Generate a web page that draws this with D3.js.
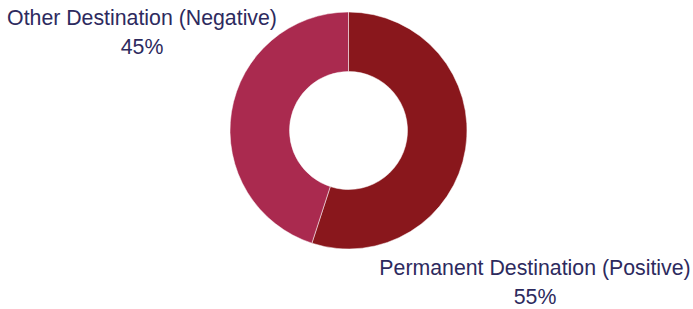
<!DOCTYPE html>
<html><head><meta charset="utf-8">
<script src="https://cdn.jsdelivr.net/npm/d3@7"></script>
<style>html,body{margin:0;padding:0;background:#fff;overflow:hidden}</style>
</head><body>
<svg id="chart" width="693" height="309"></svg>
<script>
const categories = ["Permanent Destination (Positive)", "Other Destination (Negative)"];
const values = [55, 45];
const percentLabels = ["55%", "45%"];
const colors = ["#89171C", "#AA2A4F"];

const svg = d3.select("#chart");
const cx = 348.5, cy = 130.5, outerR = 118.5, innerR = 59;
const g = svg.append("g").attr("transform", `translate(${cx},${cy})`);

const pie = d3.pie().sort(null).value(d => d)(values);
const arc = d3.arc().innerRadius(innerR).outerRadius(outerR);

g.selectAll("path").data(pie).enter().append("path")
  .attr("d", arc)
  .attr("fill", (d, i) => colors[i])
  .attr("stroke", "#fff")
  .attr("stroke-width", 0.5);

// label placements (relative to donut center)
const labelPos = [{x: 186.5, y: 144}, {x: -206.5, y: -106}];
const lg = g.selectAll("g.lbl").data(pie).enter().append("g")
  .attr("class", "lbl")
  .attr("transform", (d, i) => `translate(${labelPos[i].x},${labelPos[i].y})`);
lg.append("text")
  .attr("text-anchor", "middle")
  .attr("font-family", "Liberation Sans, Arial, sans-serif")
  .attr("font-size", 21.3)
  .attr("fill", "#2D2A5E")
  .attr("y", 0)
  .text((d, i) => categories[i]);
lg.append("text")
  .attr("text-anchor", "middle")
  .attr("font-family", "Liberation Sans, Arial, sans-serif")
  .attr("font-size", 21.3)
  .attr("fill", "#2D2A5E")
  .attr("y", 29)
  .text((d, i) => percentLabels[i]);
</script>
</body></html>
